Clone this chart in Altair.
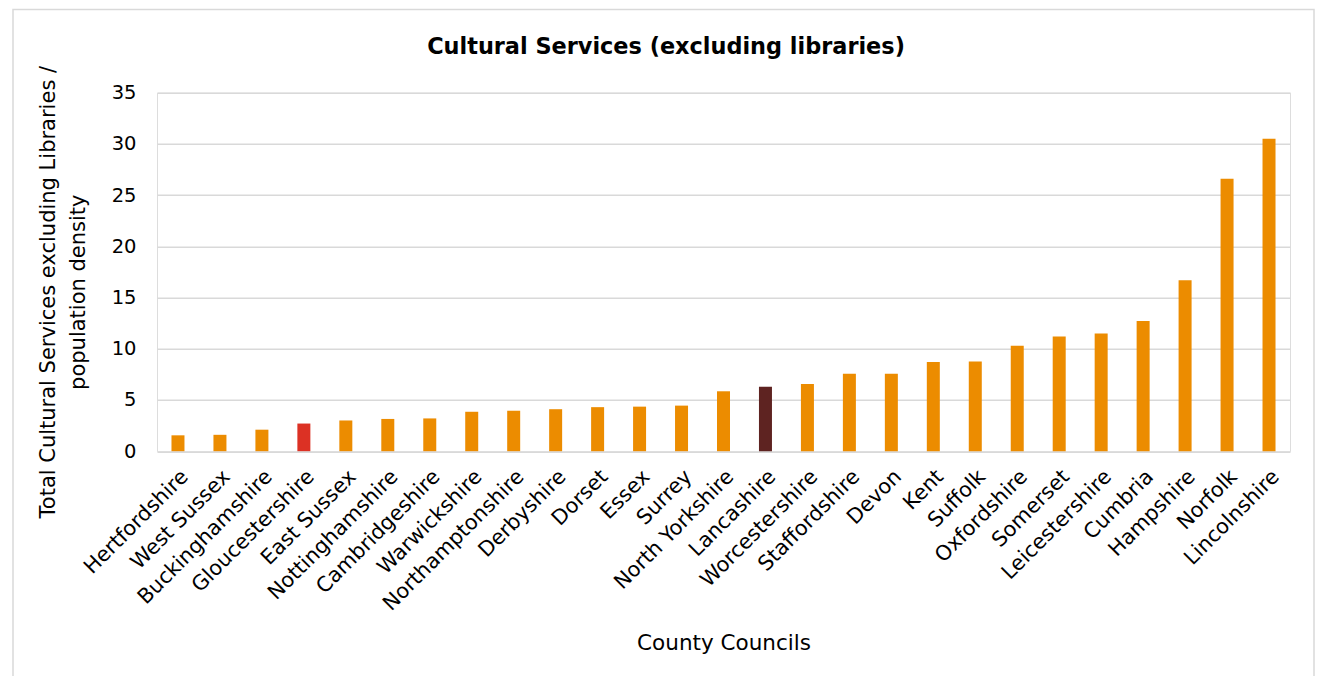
import altair as alt
import pandas as pd

counties = ["Hertfordshire", "West Sussex", "Buckinghamshire", "Gloucestershire",
            "East Sussex", "Nottinghamshire", "Cambridgeshire", "Warwickshire",
            "Northamptonshire", "Derbyshire", "Dorset", "Essex", "Surrey",
            "North Yorkshire", "Lancashire", "Worcestershire", "Staffordshire",
            "Devon", "Kent", "Suffolk", "Oxfordshire", "Somerset", "Leicestershire",
            "Cumbria", "Hampshire", "Norfolk", "Lincolnshire"]
values = [1.55, 1.6, 2.1, 2.7, 3.0, 3.15, 3.2, 3.85, 3.95, 4.1, 4.3, 4.35, 4.45,
          5.85, 6.3, 6.55, 7.55, 7.55, 8.7, 8.75, 10.3, 11.2, 11.5, 12.7, 16.7,
          26.6, 30.5]
groups = ["Gloucestershire" if c == "Gloucestershire" else ("Lancashire" if c == "Lancashire" else "Other")
          for c in counties]
y_ticks = [0, 5, 10, 15, 20, 25, 30, 35]
chart_title = "Cultural Services (excluding libraries)"

df = pd.DataFrame({"county": counties, "value": values, "group": groups})

FONT = "DejaVu Sans"
W, H = 1133, 358.5
PL, PT = 149, 84.7

bars = alt.Chart(df).mark_bar(size=13).encode(
    x=alt.X("county:N", sort=counties, scale=alt.Scale(paddingInner=0.69, paddingOuter=0.345),
            axis=alt.Axis(title="County Councils", labelAngle=-45, labelFontSize=20.8,
                          labelFont=FONT, labelColor="#000000", labelPadding=15,
                          labelOverlap=False, labelBound=False, labelLimit=0,
                          ticks=False, tickSize=0, domain=False,
                          titleFont=FONT, titleFontSize=21.5, titleFontWeight="normal",
                          titleColor="#000000", titleY=192, titleBaseline="middle")),
    y=alt.Y("value:Q", scale=alt.Scale(domain=[0, 35], nice=False),
            axis=alt.Axis(title=["Total Cultural Services excluding Libraries /", "population density"],
                          values=y_ticks, labelFontSize=19.5, labelFont=FONT,
                          labelColor="#000000", labelPadding=21, ticks=False, tickSize=0,
                          domain=False, grid=True, gridColor="#D9D9D9", gridWidth=1.5,
                          titleFont=FONT, titleFontSize=21, titleFontWeight="normal",
                          titleColor="#000000", titleLineHeight=30, titleX=-120,
                          titleY=199, titleBaseline="top", titleAlign="center")),
    color=alt.Color("group:N",
                    scale=alt.Scale(domain=["Other", "Gloucestershire", "Lancashire"],
                                    range=["#EC8C00", "#DC3124", "#5E2321"]),
                    legend=None),
)

border = alt.Chart(alt.Data(values=[{"a": 1}])).mark_rect(
    fillOpacity=0, stroke="#D9D9D9", strokeWidth=1.5
).encode(
    x=alt.value(13 - 8 - PL), x2=alt.value(1314 - 8 - PL),
    y=alt.value(9.5 - 8 - PT), y2=alt.value(720),
)

title = alt.Chart(alt.Data(values=[{"t": chart_title}])).mark_text(
    font=FONT, fontSize=22.4, fontWeight="bold", color="#000000",
    align="center", baseline="middle"
).encode(
    text="t:N",
    x=alt.value(666 - 8 - PL),
    y=alt.value(47 - 8 - PT),
)

chart = alt.layer(border, bars, title).properties(
    width=W, height=H,
    autosize=alt.AutoSizeParams(type="none"),
    padding={"left": PL, "top": PT, "right": 1308 - PL - W, "bottom": 668 - PT - H},
).configure_view(stroke=None).configure(background="#FFFFFF")

chart.save("out.html", embed_options={"renderer": "svg", "actions": False})
